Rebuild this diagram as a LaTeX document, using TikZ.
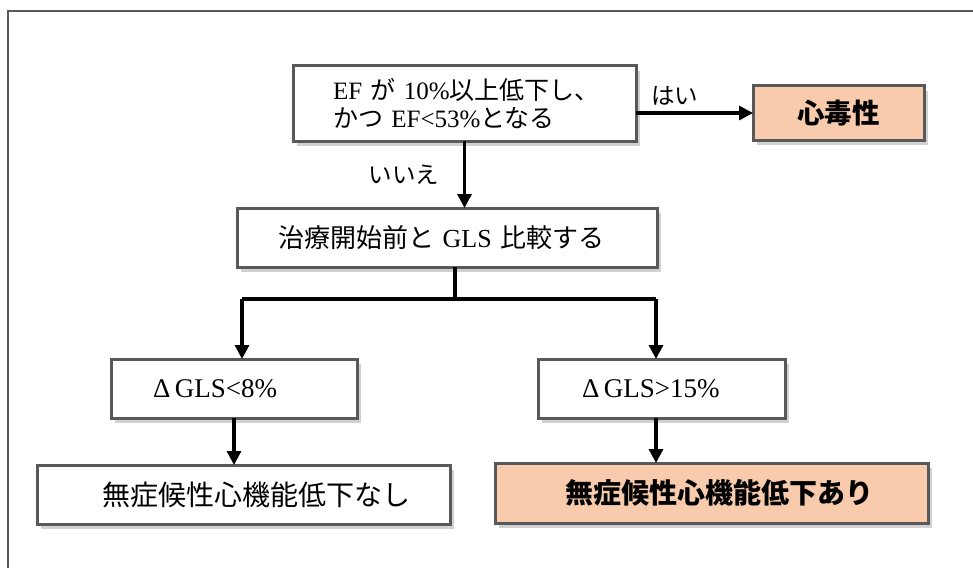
\documentclass[tikz,border=0pt]{standalone}
\usepackage{fontspec}
\setmainfont{Liberation Serif}
\newfontfamily\jpfont{Noto Sans CJK JP}
\newcommand\ja[1]{{\jpfont #1}}
\usetikzlibrary{arrows.meta, shadows}
\definecolor{boxgray}{HTML}{595959}
\definecolor{peach}{HTML}{F8CBAD}

\begin{document}
\begin{tikzpicture}[x=1pt, y=-1pt, >={Triangle[length=14pt, width=14pt]},
    every node/.style={inner ysep=0pt, outer sep=0pt}]

  \tikzstyle{box}=[draw=boxgray, line width=3pt, fill=white, align=left,
  minimum height=59pt, drop shadow={shadow xshift=4pt, shadow yshift=-5pt,
    fill=black, opacity=0.18}]
  \tikzstyle{flow}=[->, line width=3.2pt]
  \tikzstyle{answer}=[font=\fontsize{23.5}{26}\selectfont]

  \useasboundingbox (0,0) rectangle (973,567);
  \draw[boxgray, line width=1.8pt] (8,600) -- (8,11) -- (1000,11);

  % question boxes
  \node[box, text width=263pt, inner xsep=40pt, minimum height=75pt,
  font=\fontsize{25}{28}\selectfont] (efdrop) at (464.5,103.5)
  {EF~\ja{が}~10\%\ja{以上低下し、}\\\ja{かつ}~EF<53\%\ja{となる}};
  \node[box, fill=peach, align=center, minimum width=171pt, minimum height=54pt,
  font=\fontsize{27.5}{30}\selectfont\bfseries] (cardio) at (838.5,113) {\ja{心毒性}};
  \node[box, text width=338pt, inner xsep=41pt, font=\fontsize{26}{28}\selectfont]
  (compare) at (447,237.5) {\ja{治療開始前と}~GLS~\ja{比較する}};

  % GLS change
  \node[box, text width=162pt, inner xsep=42pt, font=\fontsize{27}{30}\selectfont]
  (small) at (234,388.5) {Δ\,GLS<8\%};
  \node[box, text width=159pt, inner xsep=44pt, font=\fontsize{27}{30}\selectfont]
  (large) at (661.5,388.5) {Δ\,GLS>15\%};

  % results
  \node[box, text width=283pt, inner xsep=65pt, font=\fontsize{28}{30}\selectfont]
  (nodys) at (243.5,494.5) {\ja{無症候性心機能低下なし}};
  \node[box, fill=peach, text width=293pt, inner xsep=70pt, minimum height=60pt,
  font=\fontsize{28}{30}\selectfont\bfseries] (dys) at (711.5,493)
  {\ja{無症候性心機能低下あり}};

  \coordinate (fork) at (455,299);
  \coordinate (forkL) at (242,299);
  \coordinate (forkR) at (656,299);

  \path (efdrop.east |- cardio.west) edge[flow] node[answer, above, pos=0.33,
  yshift=8pt] {\ja{はい}} (cardio.west)
  (efdrop.south) edge[flow] node[answer, left, xshift=-22pt] {\ja{いいえ}}
  (efdrop.south |- compare.north);

  \draw[line width=3.2pt] (compare.south -| fork) -- (fork);
  \draw[line width=3.2pt] (forkL) -- (forkR);

  \path (forkL) edge[flow] (forkL |- small.north)
  (forkR) edge[flow] (forkR |- large.north)
  (small.south) edge[flow] (small.south |- nodys.north)
  (large.south -| forkR) edge[flow] (forkR |- dys.north);
\end{tikzpicture}
\end{document}
